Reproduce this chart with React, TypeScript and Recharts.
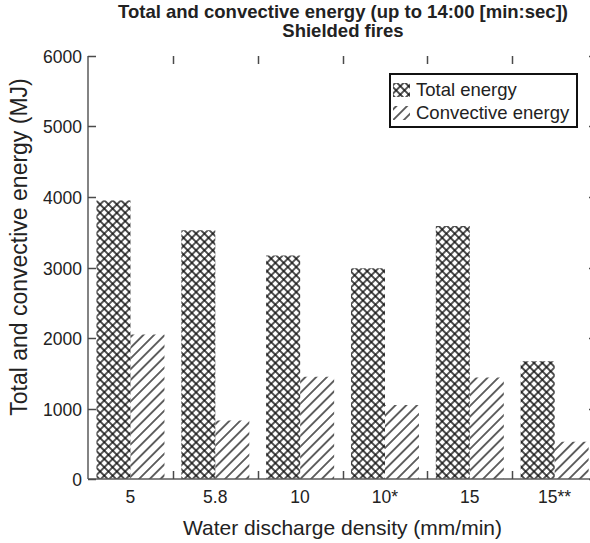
import { Bar, BarChart, Legend, XAxis, YAxis } from "recharts";

const categories = ["5", "5.8", "10", "10*", "15", "15**"];
const totalEnergy = [3950, 3530, 3170, 2990, 3590, 1670];
const convectiveEnergy = [2050, 830, 1450, 1050, 1440, 530];
const yTicks = [0, 1000, 2000, 3000, 4000, 5000, 6000];
const seriesOrder = ["total", "convective"];

const data = categories.map((label, i) => ({
  label,
  total: totalEnergy[i],
  convective: convectiveEnergy[i],
}));

const FONT = '"Liberation Sans", Arial, Helvetica, sans-serif';
const AXIS = "#5a5a5a";
const TICK = "#4a4a4a";
const TEXT = "#222";

const CHART_W = 600;
const MARGIN = { top: 56, right: 3, bottom: 0, left: 0 };
const PLOT_TOP = MARGIN.top;
const PLOT_RIGHT = CHART_W - MARGIN.right;
const TICK_LEN = 8;

// bottom label, plus inward ticks at the category edge on the bottom and top axes
function CategoryTick(props: any) {
  const x = Number(props.x);
  const y = Number(props.y);
  const edge = Math.round(x + Number(props.payload?.offset ?? 0)) + 0.5;
  return (
    <g>
      <text x={x} y={y} dy={24} textAnchor="middle" fontSize={17.5} fill={TEXT}>
        {props.payload.value}
      </text>
      <line x1={edge} x2={edge} y1={y} y2={y - TICK_LEN} stroke={TICK} strokeWidth={1.5} />
      <line
        x1={edge}
        x2={edge}
        y1={PLOT_TOP}
        y2={PLOT_TOP + TICK_LEN}
        stroke={TICK}
        strokeWidth={1.5}
      />
    </g>
  );
}

// left label, plus inward ticks on the left and right axes
function ValueTick(props: any) {
  const x = Number(props.x);
  const y = Math.round(Number(props.y)) + 0.5;
  return (
    <g>
      <text x={x} y={y} dy={6} textAnchor="end" fontSize={17.5} fill={TEXT}>
        {props.payload.value}
      </text>
      <line x1={x + 6} x2={x + 6 + TICK_LEN} y1={y} y2={y} stroke={TICK} strokeWidth={1.5} />
      <line
        x1={PLOT_RIGHT - TICK_LEN}
        x2={PLOT_RIGHT}
        y1={y}
        y2={y}
        stroke={TICK}
        strokeWidth={1.5}
      />
    </g>
  );
}

function YLabel() {
  return (
    <text
      x={19}
      y={247}
      transform="rotate(-90, 19, 247)"
      textAnchor="middle"
      dominantBaseline="central"
      fontSize={23}
      fill={TEXT}
    >
      Total and convective energy (MJ)
    </text>
  );
}

function LegendBox({ payload }: any) {
  const items = [...(payload ?? [])].sort(
    (a: any, b: any) => seriesOrder.indexOf(a.dataKey) - seriesOrder.indexOf(b.dataKey)
  );
  return (
    <div
      style={{
        width: 189,
        height: 55,
        boxSizing: "border-box",
        border: "2px solid #111",
        background: "#fff",
        padding: "3px 0 0 1px",
        fontSize: 18.5,
        color: TEXT,
        lineHeight: "23px",
      }}
    >
      {items.map((entry: any) => (
        <div key={entry.value} style={{ display: "flex", alignItems: "center" }}>
          <svg width={20} height={16} style={{ marginRight: 4 }}>
            <rect
              x={1}
              y={1}
              width={17}
              height={14}
              fill={entry.dataKey === "total" ? "url(#crossHatch)" : "url(#diagHatch)"}
            />
          </svg>
          <span>{entry.value}</span>
        </div>
      ))}
    </div>
  );
}

export default function App() {
  return (
    <div
      style={{
        position: "absolute",
        left: 0,
        top: 0,
        width: 590,
        height: 543,
        overflow: "hidden",
        background: "#fff",
        fontFamily: FONT,
      }}
    >
      <div
        style={{
          position: "absolute",
          left: 0,
          width: 686,
          top: 2,
          textAlign: "center",
          fontWeight: "bold",
          fontSize: 18.5,
          lineHeight: "19px",
          color: TEXT,
        }}
      >
        <div>Total and convective energy (up to 14:00 [min:sec])</div>
        <div>Shielded fires</div>
      </div>

      <BarChart
        width={CHART_W}
        height={543}
        data={data}
        margin={MARGIN}
        barCategoryGap="10%"
        barGap={0}
      >
        <defs>
          <pattern
            id="crossHatch"
            patternUnits="userSpaceOnUse"
            width={5.9}
            height={5.9}
            patternTransform="rotate(45)"
          >
            <path d="M0,2.95 H5.9 M2.95,0 V5.9" stroke="#111" strokeWidth={1.4} />
          </pattern>
          <pattern
            id="diagHatch"
            patternUnits="userSpaceOnUse"
            width={7.6}
            height={7.6}
            patternTransform="rotate(45)"
          >
            <path d="M3.8,0 V7.6" stroke="#111" strokeWidth={1.3} />
          </pattern>
        </defs>

        <Legend
          layout="vertical"
          align="center"
          verticalAlign="middle"
          wrapperStyle={{ left: 389, top: 73, width: 189 }}
          content={<LegendBox />}
        />

        <Bar dataKey="total" name="Total energy" fill="url(#crossHatch)" isAnimationActive={false} />
        <Bar
          dataKey="convective"
          name="Convective energy"
          fill="url(#diagHatch)"
          isAnimationActive={false}
        />

        <XAxis
          dataKey="label"
          height={64}
          interval={0}
          axisLine={{ stroke: AXIS, strokeWidth: 1.5 }}
          tickLine={false}
          tickSize={0}
          tickMargin={0}
          tick={<CategoryTick />}
          label={{
            value: "Water discharge density (mm/min)",
            position: "insideBottom",
            offset: 8,
            fontSize: 21,
            fill: TEXT,
          }}
        />
        <XAxis
          xAxisId="top"
          type="number"
          orientation="top"
          domain={[0, 6]}
          allowDataOverflow
          height={0}
          tick={false}
          tickLine={false}
          axisLine={{ stroke: AXIS, strokeWidth: 1.5 }}
        />
        <YAxis
          domain={[0, 6000]}
          ticks={yTicks}
          width={88}
          tickSize={0}
          tickMargin={6}
          tickLine={false}
          tick={<ValueTick />}
          axisLine={{ stroke: AXIS, strokeWidth: 1.5 }}
          label={{ content: () => <YLabel /> }}
        />
        <YAxis
          yAxisId="right"
          orientation="right"
          domain={[0, 6000]}
          width={0}
          tick={false}
          tickLine={false}
          axisLine={{ stroke: AXIS, strokeWidth: 1.5 }}
        />
      </BarChart>
    </div>
  );
}
